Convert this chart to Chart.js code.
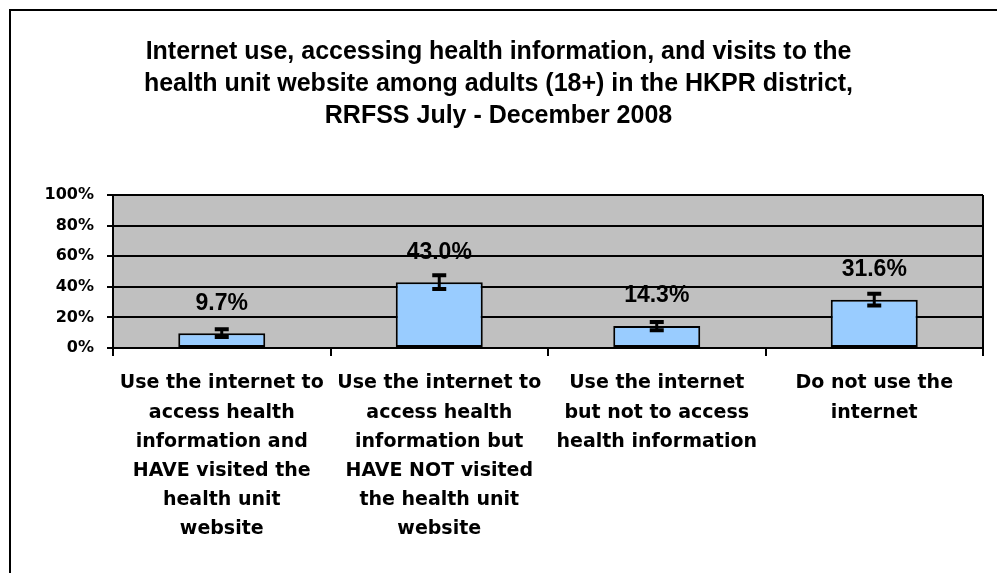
<!DOCTYPE html>
<html>
<head>
<meta charset="utf-8">
<script src="https://cdn.jsdelivr.net/npm/chart.js@4.4.0/dist/chart.umd.min.js"></script>
<style>
    html, body { margin: 0; padding: 0; background: #fff; }
    #wrap { position: relative; width: 997px; height: 573px; }
</style>
</head>
<body>
<div id="wrap"><canvas id="chart" width="997" height="573"></canvas></div>
<script>
// --- DATA ---
const titleLines = [
    'Internet use, accessing health information, and visits to the',
    'health unit website among adults (18+) in the HKPR district,',
    'RRFSS July - December 2008'
];
const categories = [
    ['Use the internet to', 'access health', 'information and', 'HAVE visited the', 'health unit', 'website'],
    ['Use the internet to', 'access health', 'information but', 'HAVE NOT visited', 'the health unit', 'website'],
    ['Use the internet', 'but not to access', 'health information'],
    ['Do not use the', 'internet']
];
const percents = [9.7, 43.0, 14.3, 31.6];
const errors = [2.5, 4.5, 2.7, 3.8];   // +/- half width of the error bars
const yTicks = [0, 20, 40, 60, 80, 100];

// --- PLUGINS ---
const plotBackground = {
    id: 'plotBackground',
    beforeDraw(chart) {
        const { ctx, chartArea: a } = chart;
        ctx.save();
        ctx.fillStyle = '#C0C0C0';
        ctx.fillRect(a.left, a.top, a.right - a.left, a.bottom - a.top);
        // outer frame of the chart object (runs off the right/bottom edge)
        ctx.strokeStyle = '#000';
        ctx.lineWidth = 2;
        ctx.strokeRect(10, 10, chart.width + 20, chart.height + 20);
        ctx.restore();
    },
    beforeDatasetsDraw(chart) {
        const { ctx, chartArea: a } = chart;
        ctx.save();
        ctx.strokeStyle = '#000';
        ctx.lineWidth = 2;
        ctx.beginPath();
        ctx.moveTo(a.right, a.top);
        ctx.lineTo(a.right, a.bottom);
        ctx.stroke();
        ctx.restore();
    }
};

const errorBarsAndLabels = {
    id: 'errorBarsAndLabels',
    afterDatasetsDraw(chart) {
        const { ctx } = chart;
        const yScale = chart.scales.y;
        const meta = chart.getDatasetMeta(0);
        ctx.save();
        meta.data.forEach((bar, i) => {
            const v = percents[i], e = errors[i];
            const yHi = yScale.getPixelForValue(v + e);
            const yLo = yScale.getPixelForValue(v - e);
            ctx.strokeStyle = '#000';
            ctx.lineWidth = 3;
            ctx.beginPath();
            ctx.moveTo(bar.x, yHi);
            ctx.lineTo(bar.x, yLo);
            ctx.stroke();
            ctx.lineWidth = 4;
            ctx.beginPath();
            ctx.moveTo(bar.x - 7, yHi);
            ctx.lineTo(bar.x + 7, yHi);
            ctx.moveTo(bar.x - 7, yLo);
            ctx.lineTo(bar.x + 7, yLo);
            ctx.stroke();

            ctx.fillStyle = '#000';
            ctx.font = 'bold 23px "Liberation Sans", Arial, sans-serif';
            ctx.textAlign = 'center';
            ctx.textBaseline = 'middle';
            ctx.fillText(v.toFixed(1) + '%', bar.x, bar.y - 30);
        });
        ctx.restore();
    }
};

// --- CHART ---
new Chart(document.getElementById('chart').getContext('2d'), {
    type: 'bar',
    data: {
        labels: categories,
        datasets: [{
            data: percents,
            backgroundColor: '#99CCFF',
            borderColor: '#000',
            borderWidth: 2,
            borderSkipped: false,
            categoryPercentage: 1.0,
            barPercentage: 0.4
        }]
    },
    options: {
        responsive: false,
        animation: false,
        layout: { padding: { left: 14, right: 14, top: 0, bottom: 0 } },
        plugins: {
            legend: { display: false },
            tooltip: { enabled: false },
            title: {
                display: true,
                text: titleLines,
                color: '#000',
                font: { family: '"Liberation Sans", Arial, sans-serif', size: 25, weight: 'bold', lineHeight: 1.28 },
                padding: { top: 36, bottom: 63 }
            }
        },
        scales: {
            x: {
                afterFit: (s) => { s.height = 225; },
                grid: {
                    offset: true,
                    drawOnChartArea: false,
                    drawTicks: true,
                    tickLength: 8,
                    color: '#000',
                    lineWidth: 2
                },
                border: { display: true, color: '#000', width: 2 },
                ticks: {
                    color: '#000',
                    maxRotation: 0,
                    autoSkip: false,
                    padding: 13,
                    font: { family: '"DejaVu Sans", sans-serif', size: 19, weight: 'bold', lineHeight: 1.53 }
                }
            },
            y: {
                min: yTicks[0],
                max: yTicks[yTicks.length - 1],
                afterFit: (s) => { s.width = 99; },
                afterBuildTicks: (s) => { s.ticks = yTicks.map(v => ({ value: v })); },
                grid: {
                    color: '#000',
                    lineWidth: 2,
                    drawTicks: true,
                    tickLength: 6
                },
                border: { display: true, color: '#000', width: 2 },
                ticks: {
                    color: '#000',
                    padding: 13,
                    font: { family: '"DejaVu Sans", sans-serif', size: 16, weight: 'bold' },
                    callback: (v) => v + '%'
                }
            }
        }
    },
    plugins: [plotBackground, errorBarsAndLabels]
});
</script>
</body>
</html>
